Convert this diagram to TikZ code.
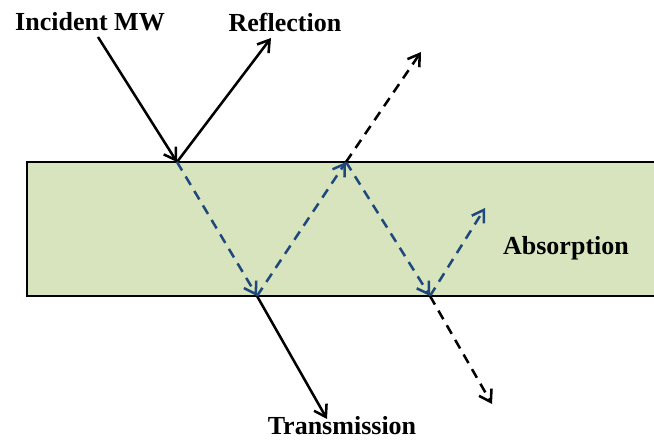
\documentclass[tikz,border=0pt]{standalone}
\usepackage{fontspec}
\setmainfont{Liberation Serif}
\usetikzlibrary{arrows.meta}
\definecolor{slabgreen}{RGB}{215,228,189}
\definecolor{waveblue}{RGB}{31,73,125}
\begin{document}
\begin{tikzpicture}[
x=0.025cm,y=-0.025cm,
font=\fontsize{18.5}{22}\selectfont\bfseries,
ray/.style={-{Straight Barb[length=2.8mm,width=3.6mm]},line width=1.8pt},
innerRay/.style={ray,waveblue,dash pattern=on 7pt off 5pt},
leakRay/.style={ray,dash pattern=on 7pt off 5pt},
rayLabel/.style={inner sep=1pt}
]
\clip (0,0) rectangle (654,440);
\draw[line width=1.8pt,fill=slabgreen] (27,162) rectangle (670,296);

\coordinate (src) at (98,37);
\coordinate (hitA) at (177,162);
\coordinate (refl) at (271,38);
\coordinate (hitB) at (257,296);
\coordinate (hitC) at (346,162);
\coordinate (hitD) at (430,296);
\coordinate (absorb) at (485,208);
\coordinate (leakUp) at (421,52);
\coordinate (leakDown) at (492,404);
\coordinate (trans) at (327,419);

\node[rayLabel] (incident) at (90,22) {Incident MW};
\node[rayLabel] (reflection) at (285,22) {Reflection};
\node[rayLabel] (absorption) at (566,248) {Absorption};
\node[rayLabel] (transmission) at (342,426) {Transmission};

\draw[ray] (src) -- (hitA);
\draw[ray] (hitA) -- (refl);
\draw[ray] (hitB) -- (trans);
\foreach \a/\b in {hitA/hitB,hitB/hitC,hitC/hitD,hitD/absorb}
 \draw[innerRay] (\a) -- (\b);
\draw[leakRay] (hitC) -- (leakUp);
\draw[leakRay] (hitD) -- (leakDown);
\end{tikzpicture}
\end{document}
